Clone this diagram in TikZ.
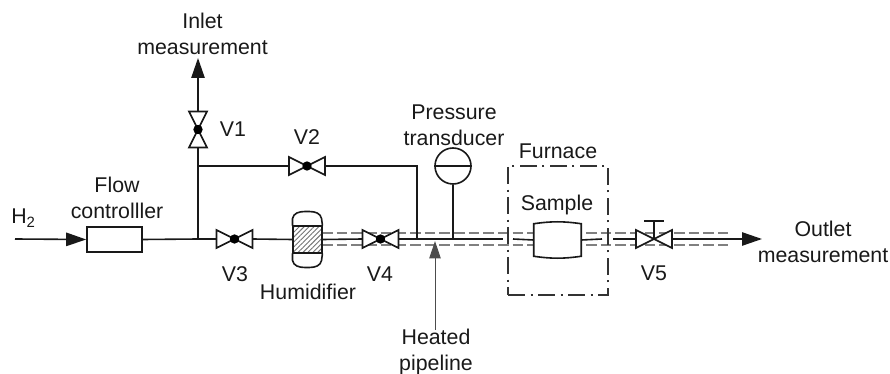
\documentclass[tikz,border=0pt]{standalone}
\usepackage{fontspec}
\setmainfont{Liberation Sans}
\usetikzlibrary{arrows.meta,positioning,patterns.meta}
\tikzset{
	pipe/.style={line width=1.2pt, draw=black!90},
	pipearr/.style={pipe, -{Triangle[length=15pt,width=10pt]}},
	heatdash/.style={line width=0.8pt, draw=black!50, dash pattern=on 8pt off 3pt},
	lbl/.style={font=\fontsize{16}{19.5}\selectfont, align=center, inner sep=0pt, text=black!90},
	flowbox/.style={rectangle, pipe, fill=white, inner sep=0pt, minimum width=41.25pt, minimum height=18.75pt},
	humidbody/.style={rectangle, pipe, inner sep=0pt, minimum width=21.75pt, minimum height=20.25pt,
		pattern={Lines[angle=45,distance=2.6pt,line width=0.7pt]}, pattern color=black!55},
	gauge/.style={circle, pipe, fill=white, inner sep=0pt, minimum size=27pt},
	samplebox/.style={rectangle, inner sep=0pt, minimum width=35.25pt, minimum height=24pt},
	furnacebox/.style={rectangle, line width=0.9pt, draw=black!80, inner sep=0pt, minimum width=75pt, minimum height=96.75pt,
		dash pattern=on 13pt off 4pt on 1.5pt off 4pt},
	valvedot/.style={circle, fill=black, inner sep=0pt, minimum size=7pt},
	valve/.pic={
		\draw[pipe, fill=white] (-18,-9)--(18,9)--(18,-9)--(-18,9)--cycle;
		\node[valvedot] (-mid) at (0,0) {};
		\coordinate (-w) at (-18,0);
		\coordinate (-e) at (18,0);
	},
	stemvalve/.pic={
		\draw[pipe, fill=white] (-18,-9)--(18,9)--(18,-9)--(-18,9)--cycle;
		\draw[pipe] (0,0)--(0,-18);
		\draw[pipe] (-10,-18)--(10,-18);
		\coordinate (-w) at (-18,0);
		\coordinate (-e) at (18,0);
	}
}

\begin{document}
\begin{tikzpicture}[x=0.75pt, y=-0.75pt]
	\useasboundingbox (0,0) rectangle (890,374);

	\coordinate (heatstart) at (322,239);
	\coordinate (heatend) at (728,239);
	\draw[heatdash] ([yshift=4.5pt]heatstart)--([yshift=4.5pt]heatend);
	\draw[heatdash] ([yshift=-4.5pt]heatstart)--([yshift=-4.5pt]heatend);

	\coordinate (h2in) at (15,239);
	\coordinate (tee) at (198,239);
	\coordinate (inletend) at (198,58);
	\coordinate (bypass) at (198,166);
	\coordinate (rejoin) at (417,239);
	\coordinate (rejointop) at (417,166);
	\coordinate (gapa) at (503,239);
	\coordinate (gapb) at (513,239);
	\coordinate (gapc) at (602,239);
	\coordinate (gapd) at (613,239);
	\coordinate (outletend) at (762,239);
	\coordinate (heatfoot) at (435,330);
	\coordinate (heattip) at (435,241);

	\node[flowbox] (flow) at (114.5,239.5) {};
	\node[humidbody] (humid) at (307.5,239.5) {};
	\draw[pipe] (humid.north west) -- ++(0,-7) to[out=80,in=180] ++(12,-7) -- ++(5,0) to[out=0,in=100] ++(12,7) -- (humid.north east);
	\draw[pipe] (humid.south west) -- ++(0,7) to[out=-80,in=180] ++(12,7) -- ++(5,0) to[out=0,in=-100] ++(12,-7) -- (humid.south east);
	\node[gauge] (trans) at (453,166) {};
	\draw[pipe] (trans.west)--(trans.east);
	\node[furnacebox] (furnace) at (558,230.5) {};
	\node[samplebox] (sample) at (557.5,240) {};
	\draw[pipe, fill=white] (sample.north west) to[bend left=8] (sample.north east)
		-- (sample.south east) to[bend left=8] (sample.south west) -- cycle;

	\pic[rotate=90] (vone) at (198,129.5) {valve};
	\pic (vtwo) at (307,166) {valve};
	\pic (vthree) at (234.5,239) {valve};
	\pic (vfour) at (380.5,239) {valve};
	\pic (vfive) at (654,239) {stemvalve};

	\draw[pipearr] (h2in)--(flow.west);
	\draw[pipe] (flow.east)--(tee)--(vthree-w);
	\draw[pipe] (vthree-e)--(humid.west);
	\draw[pipe] (humid.east)--(vfour-w);
	\draw[pipe] (vfour-e)--(rejoin)--(gapa);
	\draw[pipe] (gapb)--(sample.west);
	\draw[pipe] (sample.east)--(gapc);
	\draw[pipe] (gapd)--(vfive-w);
	\draw[pipearr] (vfive-e)--(outletend);
	\draw[pipe] (tee)--(vone-w);
	\draw[pipearr] (vone-e)--(inletend);
	\draw[pipe] (bypass)--(vtwo-w);
	\draw[pipe] (vtwo-e)--(rejointop)--(rejoin);
	\draw[pipe] (trans.south)--(trans.south |- rejoin);
	\draw[line width=0.7pt, draw=black!70, -{Triangle[length=13pt,width=8.5pt]}] (heatfoot)--(heattip);

	\node[lbl] (inletlbl) at (202.5,34) {Inlet\\measurement};
	\node[lbl] (h2lbl) at (23.5,218) {H\textsubscript{2}};
	\node[lbl] (flowlbl) at (117,198) {Flow\\controlller};
	\node[lbl] (vonelbl) at (233,129) {V1};
	\node[lbl] (vtwolbl) at (307,137) {V2};
	\node[lbl] (vthreelbl) at (235,274) {V3};
	\node[lbl] (humidlbl) at (308,292) {Humidifier};
	\node[lbl] (vfourlbl) at (380,274) {V4};
	\node[lbl] (translbl) at (454,125) {Pressure\\transducer};
	\node[lbl] (furnacelbl) at (558,151) {Furnace};
	\node[lbl] (samplelbl) at (557,205) {Sample};
	\node[lbl] (vfivelbl) at (654,273) {V5};
	\node[lbl] (outletlbl) at (823,242) {Outlet\\measurement};
	\node[lbl] (heatlbl) at (436,351.5) {Heated\\pipeline};
\end{tikzpicture}
\end{document}
